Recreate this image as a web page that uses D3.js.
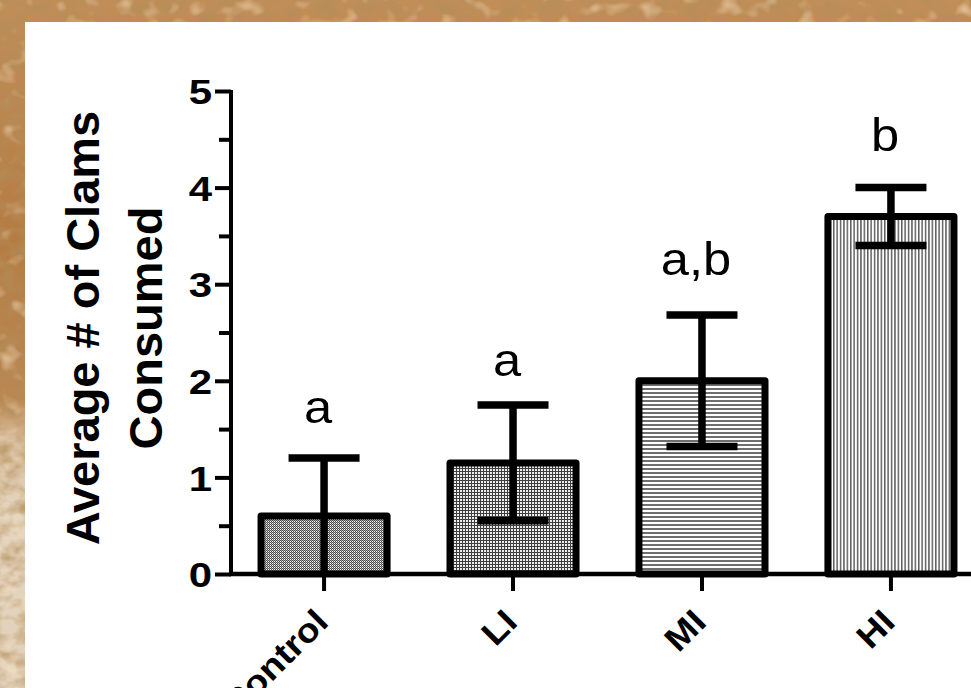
<!DOCTYPE html>
<html>
<head>
<meta charset="utf-8">
<script src="https://cdn.jsdelivr.net/npm/d3@7"></script>
<style>
    body { margin: 0; padding: 0; overflow: hidden; }
    svg { display: block; }
</style>
</head>
<body>
<div id="chart"></div>
<script>
// values
var categories = ["Control", "LI", "MI", "HI"];
var means = [0.6, 1.15, 2.0, 3.7];
var errors = [0.6, 0.6, 0.68, 0.3];
var letters = ["a", "a", "a,b", "b"];
var letterLevels = [1.56, 2.05, 3.1, 4.38];
var yTicks = [0, 1, 2, 3, 4, 5];
var yMinorTicks = [0.5, 1.5, 2.5, 3.5, 4.5];
var yTitle = ["Average # of Clams", "Consumed"];

var svgWidth = 971, svgHeight = 688;
var font = "'Liberation Sans', Arial, Helvetica, sans-serif";

var svg = d3.select("#chart").append("svg")
    .attr("width", svgWidth)
    .attr("height", svgHeight);

var defs = svg.append("defs");

// sandy backdrop behind the white panel
var grad = defs.append("linearGradient").attr("id", "sand")
    .attr("x1", 0).attr("y1", 0).attr("x2", 0).attr("y2", 1);
[["0", "#c18e58"], ["0.35", "#b47c44"], ["0.58", "#ba8752"], ["0.64", "#d9bf9f"], ["0.75", "#e6d6c0"], ["1", "#e2d0b9"]]
    .forEach(function (s) { grad.append("stop").attr("offset", s[0]).attr("stop-color", s[1]); });

var grain = defs.append("filter").attr("id", "grain")
    .attr("x", 0).attr("y", 0).attr("width", 1).attr("height", 1);
grain.append("feTurbulence").attr("type", "fractalNoise")
    .attr("baseFrequency", "0.05 0.07").attr("numOctaves", 3).attr("seed", 7);
grain.append("feColorMatrix").attr("type", "matrix")
    .attr("values", "0 0 0 0 0.45  0 0 0 0 0.27  0 0 0 0 0.1  1.7 0 0 0 -0.65");

var shine = defs.append("filter").attr("id", "shine")
    .attr("x", 0).attr("y", 0).attr("width", 1).attr("height", 1);
shine.append("feTurbulence").attr("type", "fractalNoise")
    .attr("baseFrequency", "0.05 0.06").attr("numOctaves", 2).attr("seed", 21);
shine.append("feColorMatrix").attr("type", "matrix")
    .attr("values", "0 0 0 0 0.98  0 0 0 0 0.82  0 0 0 0 0.6  1.6 0 0 0 -0.9");

svg.append("rect").attr("width", svgWidth).attr("height", svgHeight).attr("fill", "url(#sand)");
svg.append("rect").attr("width", svgWidth).attr("height", svgHeight).attr("filter", "url(#grain)");
svg.append("rect").attr("width", svgWidth).attr("height", svgHeight).attr("filter", "url(#shine)");

svg.append("rect")
    .attr("x", 25).attr("y", 22)
    .attr("width", svgWidth - 25).attr("height", svgHeight - 22)
    .attr("fill", "#ffffff");

// fill patterns of the four bars
function addPattern(id, w, h, draw) {
    var p = defs.append("pattern").attr("id", id)
        .attr("patternUnits", "userSpaceOnUse")
        .attr("width", w).attr("height", h);
    p.append("rect").attr("width", w).attr("height", h).attr("fill", "#ffffff");
    draw(p);
}
addPattern("pat-control", 2, 2, function (p) {
    p.append("rect").attr("width", 1).attr("height", 1).attr("fill", "#4a4a4a");
    p.append("rect").attr("x", 1).attr("y", 1).attr("width", 1).attr("height", 1).attr("fill", "#4a4a4a");
    p.append("rect").attr("x", 1).attr("width", 1).attr("height", 1).attr("fill", "#a8a8a8");
});
addPattern("pat-li", 3, 3, function (p) {
    p.append("rect").attr("width", 3).attr("height", 3).attr("fill", "#3e3e3e");
    p.append("rect").attr("x", 1).attr("y", 1).attr("width", 2).attr("height", 2).attr("fill", "#eeeeee");
});
addPattern("pat-mi", 4, 4, function (p) {
    p.append("rect").attr("width", 4).attr("height", 2).attr("fill", "#6e6e6e");
});
addPattern("pat-hi", 3.4, 4, function (p) {
    p.append("rect").attr("width", 1.5).attr("height", 4).attr("fill", "#5e5e5e");
});
var patterns = ["url(#pat-control)", "url(#pat-li)", "url(#pat-mi)", "url(#pat-hi)"];

// scales
var axisX = 231, axisY = 574;
var xScale = d3.scaleBand().domain(categories)
    .range([axisX, 984]).paddingInner(0.333).paddingOuter(0.159);
var yScale = d3.scaleLinear().domain([0, 5]).range([axisY, 91]);

var data = categories.map(function (c, i) {
    return {cat: c, mean: means[i], err: errors[i], letter: letters[i], level: letterLevels[i], fill: patterns[i]};
});

// bars
svg.selectAll(".bar")
    .data(data)
    .enter().append("rect")
    .attr("class", "bar")
    .attr("x", function (d) { return xScale(d.cat); })
    .attr("y", function (d) { return yScale(d.mean); })
    .attr("width", xScale.bandwidth())
    .attr("height", function (d) { return axisY - yScale(d.mean); })
    .attr("fill", function (d) { return d.fill; })
    .attr("stroke", "#000")
    .attr("stroke-width", 7)
    .attr("stroke-linejoin", "round");

// error bars
var capW = 71;
var eb = svg.selectAll(".errbar")
    .data(data)
    .enter().append("g")
    .attr("class", "errbar")
    .attr("transform", function (d) { return "translate(" + (xScale(d.cat) + xScale.bandwidth() / 2) + ",0)"; })
    .attr("stroke", "#000")
    .attr("stroke-width", 7.5);
eb.append("line")
    .attr("y1", function (d) { return yScale(Math.max(0, d.mean - d.err)); })
    .attr("y2", function (d) { return yScale(d.mean + d.err); });
eb.append("line")
    .attr("x1", -capW / 2).attr("x2", capW / 2)
    .attr("y1", function (d) { return yScale(d.mean + d.err); })
    .attr("y2", function (d) { return yScale(d.mean + d.err); });
eb.filter(function (d) { return d.mean - d.err > 0.01; })
    .append("line")
    .attr("x1", -capW / 2).attr("x2", capW / 2)
    .attr("y1", function (d) { return yScale(d.mean - d.err); })
    .attr("y2", function (d) { return yScale(d.mean - d.err); });

// significance letters
svg.selectAll(".letter")
    .data(data)
    .enter().append("text")
    .attr("class", "letter")
    .attr("transform", function (d) {
        return "translate(" + (xScale(d.cat) + xScale.bandwidth() / 2 - 6) + "," + yScale(d.level) + ") scale(1.1,1)";
    })
    .attr("text-anchor", "middle")
    .attr("font-family", font)
    .attr("font-size", 46)
    .attr("fill", "#000")
    .text(function (d) { return d.letter; });

// y axis
var yAxis = svg.append("g")
    .attr("transform", "translate(" + axisX + ",0)")
    .call(d3.axisLeft(yScale).tickValues(yTicks).tickSize(16).tickSizeOuter(0).tickPadding(3).tickFormat(d3.format("d")));
yAxis.select(".domain").remove();
yAxis.selectAll("line").attr("stroke-width", 4);
yAxis.selectAll("text")
    .attr("x", 0)
    .attr("dy", "0.36em")
    .attr("transform", "translate(-19,0) scale(1.2,1)")
    .attr("font-family", font)
    .attr("font-size", 35)
    .attr("font-weight", "bold")
    .attr("fill", "#000");

svg.append("g")
    .attr("transform", "translate(" + axisX + ",0)")
    .call(d3.axisLeft(yScale).tickValues(yMinorTicks).tickSize(12).tickSizeOuter(0).tickFormat(""))
    .call(function (g) { g.select(".domain").remove(); })
    .selectAll("line").attr("stroke-width", 4);

svg.append("line")
    .attr("x1", axisX).attr("x2", axisX)
    .attr("y1", yScale(5) - 1).attr("y2", axisY + 2)
    .attr("stroke", "#000").attr("stroke-width", 4);

// x axis
var xAxis = svg.append("g")
    .attr("transform", "translate(0," + axisY + ")")
    .call(d3.axisBottom(xScale).tickSize(17).tickSizeOuter(0));
xAxis.select(".domain").remove();
xAxis.selectAll("line").attr("stroke-width", 4);
xAxis.selectAll("text")
    .attr("x", 0).attr("y", 0).attr("dy", 0)
    .attr("text-anchor", "end")
    .attr("transform", "translate(6,50) rotate(-45) scale(1.1,1)")
    .attr("font-family", font)
    .attr("font-size", 34)
    .attr("font-weight", "bold")
    .attr("fill", "#000");

svg.append("line")
    .attr("x1", axisX - 2).attr("x2", svgWidth)
    .attr("y1", axisY).attr("y2", axisY)
    .attr("stroke", "#000").attr("stroke-width", 4.5);

// y title, two lines
var title = svg.append("text")
    .attr("transform", "translate(0,328) rotate(-90)")
    .attr("text-anchor", "middle")
    .attr("font-family", font)
    .attr("font-size", 47)
    .attr("font-weight", "bold")
    .attr("fill", "#000");
title.append("tspan").attr("x", 0).attr("y", 99).text(yTitle[0]);
title.append("tspan").attr("x", 0).attr("y", 162).text(yTitle[1]);
</script>
</body>
</html>
